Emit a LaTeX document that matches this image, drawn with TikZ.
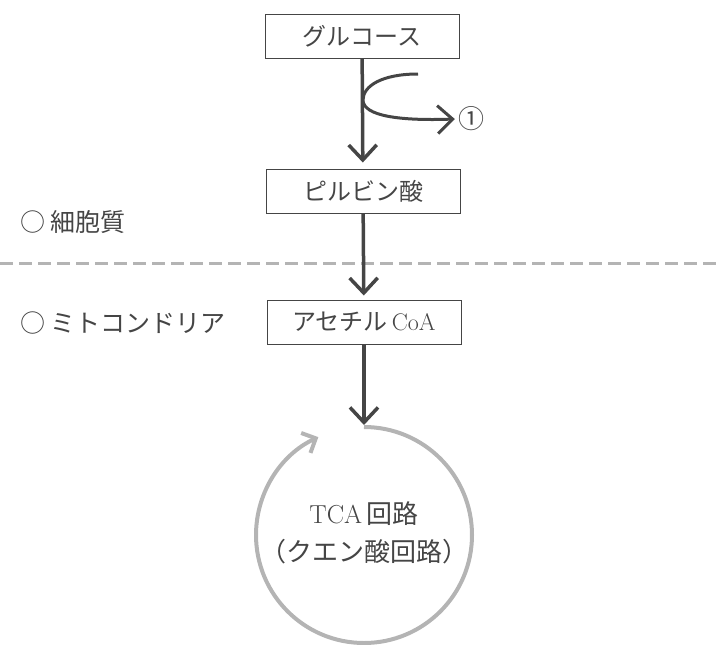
\documentclass[tikz,border=0pt]{standalone}
\usepackage{fontspec}
\newfontfamily\jp{Noto Sans CJK JP}
\usetikzlibrary{arrows.meta}

\definecolor{ink}{HTML}{454545}
\definecolor{pale}{HTML}{B4B4B4}

\begin{document}
\begin{tikzpicture}[%
x=1pt, y=-1pt,
box/.style={draw=ink, line width=1pt, minimum width=194pt, minimum height=44pt,
  inner sep=0pt, text=ink, font=\fontsize{24}{28}\selectfont},
lab/.style={anchor=west, inner sep=0pt, text=ink, font=\fontsize{25}{30}\selectfont\jp},
flow/.style={draw=ink, line width=3.5pt, -{Straight Barb[length=15pt,width=28pt]}},
]
\useasboundingbox (0,0) rectangle (720,645);
%% boxes;
\node[box] (gluc) at (362,36) {\jp グルコース};
\node[box] (pyr) at (363,191) {\jp ピルビン酸};
\node[box] (acoa) at (364,322) {{\jp アセチル}\,CoA};
%% labels;
\node[lab] (cyto) at (20,222) {○ 細胞質};
\node[lab] (mito) at (20,323) {○ ミトコンドリア};
\node[text=ink, inner sep=0pt, font=\fontsize{26}{30}\selectfont\jp] (one) at (471,119) {①};
%% membrane;
\coordinate (memL) at (0,263);
\coordinate (memR) at (720,263);
\draw[pale, line width=3pt, dash pattern=on 13pt off 6pt] (memL) -- (memR);
%% arrows;
\draw[flow, shorten >=6pt] (gluc) -- (pyr);
\draw[flow, shorten >=4pt] (pyr) -- (acoa);
\coordinate (side) at (418,74);
\coordinate (bend) at (363,100);
\draw[flow, line width=3pt] (side) .. controls (382,74) and (363,86) .. (bend)
  .. controls (363,116) and (400,121) .. ([xshift=-3pt]one.west);
%% cycle;
\coordinate (cyctop) at (364,427);
\draw[flow, shorten >=2pt] (acoa) -- (cyctop);
\draw[pale, line width=4pt, -{Straight Barb[length=11pt,width=22pt]}]
  (cyctop) arc[start angle=-90, end angle=245, radius=108];
\node[text=ink, align=center, font=\fontsize{26}{38}\selectfont] (tca) at (364,533)
  {TCA\,{\jp 回路}\\{\jp （クエン酸回路）}};
\end{tikzpicture}
\end{document}
